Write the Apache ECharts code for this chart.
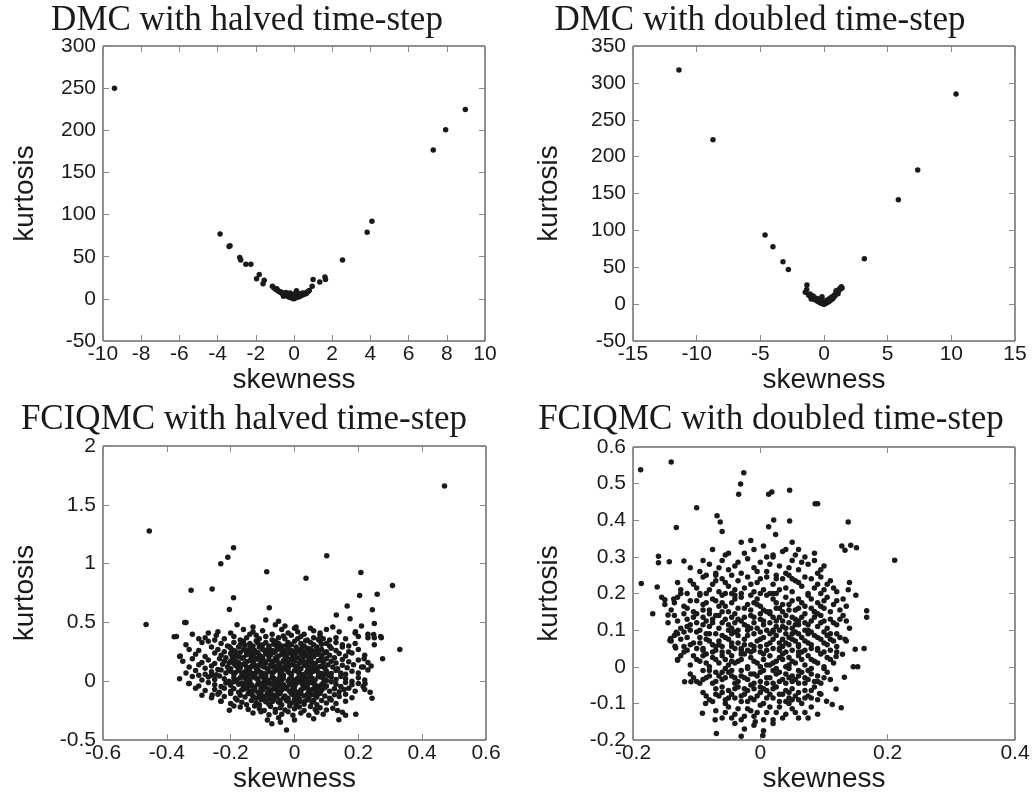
<!DOCTYPE html>
<html>
<head>
<meta charset="utf-8">
<script src="https://cdn.jsdelivr.net/npm/echarts@6/dist/echarts.min.js"></script>
<style>
  html, body { margin: 0; padding: 0; background: #fff; }
  #chart { width: 1035px; height: 794px; }
</style>
</head>
<body>
<div id="chart"></div>
<script>
// panel titles
var panelTitles = [
  'DMC with halved time-step',
  'DMC with doubled time-step',
  'FCIQMC with halved time-step',
  'FCIQMC with doubled time-step'
];

// axis ranges [min, max, interval]
var xRanges = [[-10, 10, 2], [-15, 15, 5], [-0.6, 0.6, 0.2], [-0.2, 0.4, 0.2]];
var yRanges = [[-50, 300, 50], [-50, 350, 50], [-0.5, 2, 0.5], [-0.2, 0.6, 0.1]];

// [skewness, kurtosis]
var dmcHalfPoints = [
  [-9.4,250],[-3.87,77],[-3.4,62],[-3.35,63],[-2.84,49],[-2.79,46],[-2.52,41],[-2.26,41],
  [-1.96,24],[-1.82,29],[-1.62,18],[-1.56,22],[-1.13,15],[1.0,23],[0.95,15],[1.35,20],
  [1.62,26],[1.65,23],[2.54,46],[3.83,79],[4.08,92],[7.29,176.5],[7.94,200.6],[8.97,224.8],
  [-1.05,13],[-0.95,11],[-0.9,12],[-0.85,10],[-0.8,9],[-0.75,8],[-0.7,8.5],[-0.65,7],
  [-0.6,6],[-0.55,7],[-0.5,5],[-0.45,6],[-0.42,7.5],[-0.4,4],[-0.35,3.5],[-0.3,3],
  [-0.28,5],[-0.25,2],[-0.2,2.5],[-0.18,4],[-0.15,1.5],[-0.1,1],[-0.08,3],[-0.05,0.5],
  [-0.02,2],[0,0],[0.02,1],[0.05,1.5],[0.08,3],[0.1,2],[0.12,4],[0.13,9.5],[0.15,1.5],
  [0.2,3],[0.22,5],[0.25,2.5],[0.3,4],[0.32,6],[0.35,3.5],[0.4,5],[0.45,4.5],[0.5,6],
  [0.55,5.5],[0.6,7],[0.65,6.5],[0.7,8],[0.75,9],[0.8,10],[-0.3,6.5],[-0.1,5],[0.05,6],
  [-0.55,3],[0.45,7],[-0.2,7],[0.25,6],[-0.05,3.5]
];

var dmcDoublePoints = [
  [-11.39,317.5],[-8.72,223],[-4.63,93.6],[-4.01,77.8],[-3.22,57.4],[-2.8,47],[-1.34,26],
  [-1.36,20],[-1.47,16],[-1.1,13.6],[-1.0,11],[-0.16,10],[3.17,61.5],[5.84,141.6],[7.36,182],
  [10.37,285],[1.36,23.5],[1.42,22],[1.23,21],[0.97,16.7],[0.79,12],[0.58,7.7],
  [-1.2,12],[-1.05,10],[-0.95,9],[-0.85,8],[-0.8,6.5],[-0.7,7],[-0.6,5],[-0.55,6],[-0.5,4],
  [-0.45,4.5],[-0.4,3],[-0.35,3.5],[-0.3,2],[-0.25,2.5],[-0.2,1.5],[-0.15,1],[-0.1,0.8],
  [-0.05,0.5],[0,0],[0.05,0.5],[0.1,1],[0.15,1.5],[0.2,2],[0.25,2.5],[0.3,3],[0.35,3.5],
  [0.4,4],[0.45,4.5],[0.5,5.5],[0.55,6],[0.65,7],[0.7,8],[0.75,9],[0.85,11],[0.9,13],
  [1.0,14],[1.05,15.5],[1.1,17],[1.15,18],[1.2,19.5],[1.3,21],[-0.6,8],[-0.3,5],[-0.05,4],
  [0.2,5],[0.45,7.5],[-0.85,11],[0.95,18],[-0.45,7],[0.1,4],[-0.2,4.5],[0.6,9.5],[-1.0,7],
  [1.1,14],[0.3,6]
];

var fciHalfPoints = [
  // scattered outliers
  [0.47,1.66],[-0.455,1.278],[-0.465,0.482],[-0.191,1.134],[-0.209,1.054],[-0.231,0.998],
  [-0.087,0.93],[0.101,1.066],[0.036,0.876],[0.208,0.924],[0.307,0.814],[0.259,0.74],
  [0.204,0.729],[-0.324,0.774],[-0.258,0.785],[-0.191,0.709],[-0.204,0.61],[-0.079,0.624],
  [0.33,0.27],[0.276,0.191],[0.244,0.607],[0.165,0.64],[0.131,0.562],[-0.377,0.377],
  [-0.358,0.214],[-0.344,0.5],[-0.331,-0.02],[-0.258,-0.118],[-0.231,-0.17],[-0.204,-0.246],
  [-0.071,-0.362],[-0.025,-0.415],[-0.044,-0.35],[0.139,-0.327],[0.192,-0.282],[0.243,-0.146],
  [0.237,-0.093],[0.221,-0.02],[0.216,0.12],[0.218,0.19],[0.23,0.37],[0.248,0.397],
  [0.272,0.37],[0.174,0.53],[0.191,0.42],
  // main cloud
  [-0.34,0.50],[-0.18,0.48],[-0.09,0.52],[-0.06,0.48],[-0.03,0.47],[0.005,0.46],[0.05,0.45],
  [0.12,0.46],[0.21,0.47],[0.25,0.49],[-0.13,0.46],[-0.05,0.51],
  [-0.32,0.40],[-0.27,0.41],[-0.24,0.42],[-0.2,0.41],[-0.16,0.44],[-0.13,0.42],[-0.1,0.43],
  [-0.07,0.40],[-0.04,0.44],[-0.02,0.41],[0.01,0.42],[0.03,0.40],[0.06,0.43],[0.08,0.41],
  [0.1,0.44],[0.14,0.42],[0.19,0.41],[0.23,0.40],[-0.14,0.40],[0.0,0.45],
  [-0.37,0.38],[-0.3,0.36],[-0.28,0.37],[-0.25,0.35],[-0.22,0.36],[-0.19,0.38],[-0.17,0.35],
  [-0.15,0.37],[-0.12,0.39],[-0.11,0.36],[-0.09,0.38],[-0.07,0.35],[-0.05,0.37],[-0.03,0.36],
  [-0.01,0.39],[0.01,0.36],[0.02,0.38],[0.04,0.35],[0.06,0.37],[0.08,0.39],[0.09,0.36],
  [0.11,0.35],[0.13,0.37],[0.16,0.36],[0.2,0.38],[0.25,0.37],[0.27,0.38],[-0.245,0.39],
  [-0.035,0.385],[0.075,0.355],
  [-0.34,0.31],[-0.29,0.33],[-0.27,0.34],[-0.23,0.32],[-0.21,0.30],[-0.19,0.33],[-0.17,0.31],
  [-0.16,0.34],[-0.14,0.32],[-0.13,0.30],[-0.12,0.345],[-0.1,0.31],[-0.09,0.33],[-0.08,0.30],
  [-0.06,0.34],[-0.05,0.32],[-0.04,0.30],[-0.02,0.33],[-0.01,0.31],[0.0,0.34],[0.02,0.32],
  [0.03,0.30],[0.05,0.33],[0.06,0.31],[0.08,0.34],[0.1,0.32],[0.11,0.30],[0.13,0.33],
  [0.15,0.31],[0.17,0.30],[0.19,0.32],[0.25,0.31],[-0.155,0.305],[-0.065,0.315],[0.035,0.345],
  [-0.115,0.325],[-0.025,0.305],[0.085,0.315],
  [-0.33,0.27],[-0.3,0.26],[-0.26,0.29],[-0.24,0.27],[-0.22,0.25],[-0.2,0.28],[-0.19,0.26],
  [-0.175,0.29],[-0.16,0.27],[-0.15,0.25],[-0.14,0.28],[-0.125,0.26],[-0.11,0.29],[-0.1,0.27],
  [-0.09,0.25],[-0.08,0.28],[-0.07,0.26],[-0.055,0.29],[-0.045,0.27],[-0.03,0.25],[-0.02,0.28],
  [-0.01,0.26],[0.005,0.29],[0.015,0.27],[0.03,0.25],[0.04,0.28],[0.055,0.26],[0.07,0.29],
  [0.085,0.27],[0.1,0.25],[0.115,0.28],[0.13,0.26],[0.15,0.29],[0.17,0.25],[0.2,0.27],
  [-0.205,0.295],[-0.085,0.255],[0.025,0.295],[-0.135,0.255],[0.065,0.255],[-0.04,0.295],
  [-0.36,0.21],[-0.31,0.23],[-0.28,0.21],[-0.25,0.24],[-0.23,0.22],[-0.215,0.2],[-0.2,0.235],
  [-0.185,0.215],[-0.17,0.245],[-0.16,0.2],[-0.15,0.225],[-0.135,0.21],[-0.125,0.24],[-0.11,0.22],
  [-0.1,0.2],[-0.09,0.235],[-0.08,0.215],[-0.065,0.245],[-0.055,0.205],[-0.04,0.23],[-0.03,0.21],
  [-0.015,0.24],[-0.005,0.22],[0.01,0.2],[0.02,0.235],[0.035,0.215],[0.045,0.245],[0.06,0.205],
  [0.07,0.23],[0.085,0.21],[0.095,0.24],[0.11,0.22],[0.125,0.2],[0.14,0.235],[0.16,0.215],
  [0.18,0.24],[0.22,0.22],[-0.195,0.205],[-0.075,0.225],[0.055,0.225],[-0.145,0.245],[0.005,0.245],
  [-0.35,0.17],[-0.32,0.19],[-0.29,0.16],[-0.27,0.18],[-0.25,0.15],[-0.235,0.19],[-0.22,0.17],
  [-0.205,0.155],[-0.19,0.185],[-0.18,0.165],[-0.165,0.195],[-0.155,0.15],[-0.14,0.175],
  [-0.13,0.16],[-0.115,0.19],[-0.105,0.17],[-0.09,0.155],[-0.08,0.185],[-0.07,0.165],
  [-0.06,0.195],[-0.045,0.15],[-0.035,0.175],[-0.02,0.16],[-0.01,0.19],[0.0,0.17],[0.015,0.155],
  [0.025,0.185],[0.04,0.165],[0.05,0.195],[0.065,0.15],[0.075,0.175],[0.09,0.16],[0.1,0.19],
  [0.115,0.17],[0.13,0.155],[0.15,0.185],[0.17,0.165],[0.2,0.18],[0.23,0.16],[-0.125,0.2],
  [-0.025,0.2],[0.055,0.16],[-0.175,0.155],[-0.065,0.17],
  [-0.33,0.12],[-0.3,0.14],[-0.28,0.11],[-0.26,0.13],[-0.24,0.1],[-0.225,0.145],[-0.21,0.12],
  [-0.2,0.105],[-0.185,0.135],[-0.17,0.115],[-0.16,0.145],[-0.145,0.1],[-0.135,0.125],
  [-0.12,0.11],[-0.11,0.14],[-0.095,0.12],[-0.085,0.105],[-0.075,0.135],[-0.06,0.115],
  [-0.05,0.145],[-0.04,0.1],[-0.03,0.125],[-0.02,0.11],[-0.005,0.14],[0.005,0.12],[0.02,0.105],
  [0.03,0.135],[0.045,0.115],[0.055,0.145],[0.07,0.1],[0.08,0.125],[0.095,0.11],[0.105,0.14],
  [0.12,0.12],[0.135,0.105],[0.15,0.135],[0.165,0.115],[0.185,0.14],[0.21,0.12],[0.24,0.13],
  [-0.19,0.15],[-0.065,0.13],[0.035,0.15],[-0.115,0.1],[-0.015,0.135],
  [-0.34,0.07],[-0.31,0.09],[-0.28,0.06],[-0.26,0.08],[-0.245,0.055],[-0.23,0.095],[-0.215,0.07],
  [-0.2,0.085],[-0.19,0.06],[-0.175,0.09],[-0.165,0.07],[-0.15,0.055],[-0.14,0.085],[-0.13,0.065],
  [-0.115,0.095],[-0.105,0.075],[-0.09,0.055],[-0.08,0.085],[-0.07,0.065],[-0.055,0.095],
  [-0.045,0.07],[-0.035,0.05],[-0.02,0.08],[-0.01,0.06],[0.0,0.09],[0.015,0.07],[0.025,0.055],
  [0.04,0.085],[0.05,0.065],[0.065,0.095],[0.075,0.075],[0.09,0.055],[0.1,0.085],[0.115,0.065],
  [0.13,0.09],[0.145,0.07],[0.16,0.06],[0.18,0.085],[0.2,0.07],[0.23,0.095],[-0.3,0.05],
  [-0.205,0.1],[-0.125,0.05],[-0.025,0.1],[0.055,0.1],[0.105,0.05],
  [-0.36,0.02],[-0.32,0.04],[-0.29,0.01],[-0.27,0.035],[-0.25,0.015],[-0.235,0.045],[-0.22,0.02],
  [-0.205,0.0],[-0.19,0.03],[-0.18,0.01],[-0.165,0.045],[-0.155,0.025],[-0.14,0.005],[-0.13,0.035],
  [-0.115,0.015],[-0.105,0.045],[-0.09,0.025],[-0.08,0.005],[-0.07,0.035],[-0.055,0.015],
  [-0.045,0.045],[-0.035,0.025],[-0.02,0.0],[-0.01,0.03],[0.0,0.01],[0.015,0.045],[0.025,0.02],
  [0.04,0.0],[0.05,0.035],[0.065,0.015],[0.075,0.045],[0.09,0.025],[0.1,0.005],[0.115,0.035],
  [0.13,0.015],[0.145,0.04],[0.16,0.02],[0.18,0.0],[0.2,0.03],[0.22,0.01],[-0.26,0.05],
  [-0.145,0.05],[-0.06,0.0],[0.035,0.03],[-0.095,0.0],[0.085,0.05],
  [-0.33,-0.02],[-0.3,-0.04],[-0.27,-0.01],[-0.25,-0.03],[-0.23,-0.045],[-0.215,-0.015],
  [-0.2,-0.035],[-0.19,-0.005],[-0.175,-0.025],[-0.16,-0.045],[-0.15,-0.01],[-0.135,-0.03],
  [-0.125,-0.05],[-0.11,-0.015],[-0.1,-0.035],[-0.085,-0.005],[-0.075,-0.025],[-0.06,-0.045],
  [-0.05,-0.01],[-0.035,-0.03],[-0.025,-0.05],[-0.01,-0.015],[0.0,-0.035],[0.015,-0.005],
  [0.025,-0.025],[0.04,-0.045],[0.05,-0.01],[0.065,-0.03],[0.075,-0.05],[0.09,-0.015],[0.1,-0.04],
  [0.115,-0.005],[0.13,-0.025],[0.145,-0.045],[0.16,-0.01],[0.18,-0.03],[0.2,-0.02],[0.215,-0.045],
  [-0.045,-0.04],[0.035,-0.015],[-0.14,-0.02],[0.085,-0.03],
  [-0.31,-0.06],[-0.28,-0.08],[-0.25,-0.07],[-0.235,-0.095],[-0.22,-0.06],[-0.2,-0.085],
  [-0.19,-0.065],[-0.175,-0.095],[-0.165,-0.075],[-0.15,-0.055],[-0.14,-0.085],[-0.125,-0.065],
  [-0.115,-0.095],[-0.1,-0.075],[-0.09,-0.055],[-0.075,-0.085],[-0.065,-0.065],[-0.05,-0.095],
  [-0.04,-0.075],[-0.03,-0.055],[-0.015,-0.085],[-0.005,-0.065],[0.01,-0.095],[0.02,-0.075],
  [0.035,-0.055],[0.045,-0.085],[0.06,-0.065],[0.07,-0.095],[0.085,-0.075],[0.095,-0.055],
  [0.11,-0.085],[0.125,-0.065],[0.14,-0.09],[0.155,-0.07],[0.17,-0.06],[0.19,-0.085],[0.22,-0.07],
  [-0.085,-0.1],[0.0,-0.05],[0.065,-0.08],
  [-0.29,-0.12],[-0.26,-0.14],[-0.24,-0.11],[-0.22,-0.13],[-0.2,-0.105],[-0.185,-0.145],
  [-0.17,-0.12],[-0.155,-0.135],[-0.145,-0.105],[-0.13,-0.125],[-0.12,-0.145],[-0.105,-0.11],
  [-0.095,-0.13],[-0.08,-0.15],[-0.07,-0.115],[-0.055,-0.135],[-0.045,-0.105],[-0.03,-0.125],
  [-0.02,-0.145],[-0.005,-0.115],[0.005,-0.135],[0.02,-0.105],[0.03,-0.125],[0.045,-0.145],
  [0.055,-0.115],[0.07,-0.135],[0.08,-0.105],[0.095,-0.125],[0.11,-0.145],[0.125,-0.115],
  [0.14,-0.13],[0.16,-0.11],[0.18,-0.14],[-0.065,-0.145],[0.015,-0.15],
  [-0.23,-0.17],[-0.2,-0.19],[-0.18,-0.16],[-0.165,-0.18],[-0.15,-0.2],[-0.135,-0.165],
  [-0.12,-0.185],[-0.105,-0.155],[-0.09,-0.175],[-0.08,-0.195],[-0.065,-0.16],[-0.05,-0.18],
  [-0.04,-0.2],[-0.025,-0.165],[-0.01,-0.185],[0.0,-0.155],[0.015,-0.175],[0.03,-0.195],
  [0.04,-0.16],[0.055,-0.18],[0.07,-0.2],[0.085,-0.165],[0.1,-0.185],[0.115,-0.16],[0.13,-0.19],
  [0.16,-0.17],[-0.11,-0.2],[0.005,-0.2],
  [-0.17,-0.22],[-0.145,-0.24],[-0.125,-0.21],[-0.11,-0.235],[-0.095,-0.25],[-0.075,-0.215],
  [-0.06,-0.24],[-0.045,-0.225],[-0.03,-0.245],[-0.015,-0.21],[0.0,-0.235],[0.015,-0.22],
  [0.03,-0.25],[0.05,-0.215],[0.065,-0.24],[0.08,-0.225],[0.1,-0.245],[0.12,-0.23],[0.135,-0.25],
  [-0.19,-0.21],
  [-0.13,-0.27],[-0.105,-0.26],[-0.08,-0.285],[-0.06,-0.265],[-0.04,-0.28],[-0.02,-0.26],
  [-0.005,-0.29],[0.02,-0.27],[0.045,-0.29],[0.07,-0.265],[0.09,-0.28],[0.15,-0.265],[0.16,-0.29],
  [-0.05,-0.31],[0.0,-0.33],[0.06,-0.32],[-0.085,-0.33],
  // denser core
  [-0.185,0.25],[-0.155,0.265],[-0.115,0.245],[-0.095,0.265],[-0.06,0.255],[-0.035,0.265],[0.0,0.255],
  [0.02,0.26],[0.05,0.275],[0.075,0.265],[-0.175,0.21],[-0.14,0.225],[-0.105,0.21],[-0.085,0.23],
  [-0.05,0.215],[-0.025,0.225],[0.0,0.21],[0.025,0.22],[0.05,0.21],[0.08,0.225],[-0.2,0.17],
  [-0.15,0.165],[-0.125,0.18],[-0.095,0.17],[-0.055,0.18],[-0.03,0.165],[-0.005,0.175],[0.02,0.17],
  [0.045,0.18],[0.085,0.175],[-0.18,0.125],[-0.15,0.12],[-0.125,0.135],[-0.1,0.13],[-0.07,0.125],
  [-0.045,0.12],[-0.025,0.115],[0.01,0.13],[0.04,0.125],[0.065,0.12],[0.09,0.125],[-0.185,0.075],
  [-0.155,0.08],[-0.12,0.075],[-0.095,0.065],[-0.065,0.08],[-0.04,0.085],[-0.015,0.07],[0.01,0.08],
  [0.035,0.065],[0.06,0.085],[0.085,0.065],[-0.17,0.03],[-0.145,0.02],[-0.12,0.025],[-0.1,0.035],
  [-0.065,0.025],[-0.04,0.01],[-0.015,0.02],[0.01,0.025],[0.03,0.01],[0.055,0.025],[0.08,0.035],
  [-0.165,-0.015],[-0.14,-0.04],[-0.115,-0.025],[-0.09,-0.02],[-0.065,-0.01],[-0.04,-0.02],
  [-0.015,-0.03],[0.005,-0.02],[0.03,-0.035],[0.06,-0.02],[0.08,-0.04],[-0.155,-0.065],[-0.13,-0.08],
  [-0.105,-0.06],[-0.08,-0.07],[-0.055,-0.075],[-0.025,-0.065],[0.0,-0.08],[0.025,-0.065],
  [0.05,-0.075],[0.08,-0.09],[-0.135,-0.11],[-0.11,-0.125],[-0.085,-0.115],[-0.06,-0.12],
  [-0.035,-0.14],[-0.01,-0.105],[0.01,-0.12],[0.04,-0.11],[0.065,-0.12],[-0.095,-0.16],
  [-0.07,-0.175],[-0.045,-0.165],[-0.02,-0.17],[0.005,-0.165],[0.03,-0.175],[0.06,-0.165]
];

var fciDoublePoints = [
  // scattered outliers
  [-0.188,0.538],[-0.14,0.559],[-0.026,0.53],[-0.031,0.499],[-0.034,0.471],[0.013,0.471],
  [0.018,0.477],[0.046,0.482],[0.086,0.445],[0.09,0.445],[-0.1,0.434],[-0.132,0.38],
  [-0.068,0.412],[-0.063,0.395],[-0.06,0.369],[0.021,0.401],[0.013,0.382],[0.024,0.361],
  [0.046,0.398],[0.138,0.395],[0.211,0.291],[-0.187,0.227],[-0.16,0.302],[-0.16,0.284],
  [-0.143,0.287],[-0.162,0.218],[-0.169,0.145],[-0.15,0.183],[-0.145,0.141],[-0.136,0.185],
  [-0.12,0.289],[-0.141,0.077],[-0.142,0.072],[-0.132,0.094],[-0.134,0.056],[-0.133,0.051],
  [-0.13,0.018],[-0.119,-0.041],[-0.109,-0.041],[-0.091,-0.127],[-0.086,-0.1],[-0.071,-0.145],
  [-0.069,-0.182],[0.004,-0.188],[-0.008,-0.15],[0.128,0.33],[0.133,0.318],[0.142,0.332],
  [0.151,0.325],[0.15,0.195],[0.167,0.153],[0.167,0.135],[0.163,0.05],[0.149,0.048],
  [0.146,0.0],[0.153,0.0],[0.132,-0.029],[0.119,-0.061],[0.127,-0.112],[0.113,-0.103],
  [0.104,-0.094],[0.093,-0.073],[0.14,0.23],[0.138,0.21],[0.133,0.075],[0.119,0.028],[0.129,0.034],
  // main cloud
  [-0.05,0.31],[-0.03,0.34],[-0.015,0.345],[-0.01,0.32],[0.005,0.33],[0.02,0.305],[0.035,0.315],
  [0.05,0.34],[0.055,0.305],[0.085,0.31],[-0.075,0.32],[0.06,0.32],
  [-0.11,0.27],[-0.095,0.26],[-0.08,0.28],[-0.07,0.255],[-0.06,0.29],[-0.05,0.265],[-0.04,0.275],
  [-0.03,0.255],[-0.02,0.295],[-0.01,0.27],[0.0,0.285],[0.01,0.26],[0.02,0.3],[0.03,0.275],
  [0.04,0.255],[0.05,0.29],[0.06,0.265],[0.075,0.28],[0.09,0.255],[0.1,0.275],[-0.045,0.25],
  [0.025,0.25],[-0.085,0.25],[0.07,0.3],[0.085,0.29],
  [-0.125,0.21],[-0.11,0.235],[-0.1,0.215],[-0.09,0.245],[-0.085,0.2],[-0.075,0.225],[-0.065,0.205],
  [-0.06,0.24],[-0.05,0.22],[-0.045,0.2],[-0.035,0.235],[-0.025,0.215],[-0.02,0.245],[-0.01,0.205],
  [-0.005,0.23],[0.005,0.21],[0.01,0.245],[0.02,0.225],[0.025,0.2],[0.035,0.24],[0.04,0.215],
  [0.05,0.205],[0.055,0.235],[0.065,0.22],[0.075,0.2],[0.08,0.24],[0.09,0.225],[0.1,0.21],
  [0.11,0.235],[0.12,0.205],[-0.13,0.23],[-0.07,0.25],[0.045,0.25],[-0.03,0.2],[0.015,0.2],
  [0.07,0.245],[0.095,0.245],[-0.115,0.2],
  [-0.15,0.17],[-0.14,0.155],[-0.13,0.19],[-0.12,0.165],[-0.11,0.18],[-0.105,0.15],[-0.095,0.195],
  [-0.09,0.17],[-0.08,0.155],[-0.075,0.185],[-0.065,0.165],[-0.06,0.195],[-0.05,0.15],[-0.045,0.175],
  [-0.035,0.16],[-0.03,0.19],[-0.02,0.17],[-0.015,0.155],[-0.005,0.185],[0.0,0.165],[0.01,0.195],
  [0.015,0.15],[0.025,0.175],[0.03,0.16],[0.04,0.19],[0.045,0.17],[0.055,0.155],[0.06,0.185],
  [0.07,0.165],[0.075,0.195],[0.085,0.15],[0.09,0.175],[0.1,0.16],[0.105,0.19],[0.115,0.17],
  [0.125,0.155],[0.13,0.185],[-0.125,0.2],[-0.055,0.2],[0.02,0.2],[0.095,0.2],[-0.085,0.175],
  [-0.01,0.175],[0.065,0.175],[-0.04,0.195],[0.035,0.15],[0.11,0.15],[-0.155,0.19],
  [-0.145,0.12],[-0.135,0.14],[-0.125,0.105],[-0.115,0.13],[-0.11,0.115],[-0.1,0.145],[-0.095,0.1],
  [-0.085,0.125],[-0.08,0.11],[-0.07,0.14],[-0.065,0.105],[-0.055,0.13],[-0.05,0.115],[-0.04,0.145],
  [-0.035,0.1],[-0.03,0.125],[-0.02,0.11],[-0.015,0.14],[-0.005,0.105],[0.0,0.13],[0.005,0.115],
  [0.015,0.145],[0.02,0.1],[0.025,0.125],[0.035,0.11],[0.04,0.14],[0.05,0.105],[0.055,0.13],
  [0.06,0.115],[0.07,0.145],[0.075,0.1],[0.08,0.125],[0.09,0.11],[0.095,0.14],[0.105,0.105],
  [0.11,0.13],[0.12,0.115],[0.13,0.14],[0.14,0.105],[-0.06,0.15],[0.01,0.15],[0.085,0.15],
  [-0.1,0.12],[-0.025,0.135],[0.045,0.12],[0.1,0.125],[-0.075,0.12],[-0.01,0.12],[0.065,0.135],
  [-0.045,0.135],[0.03,0.135],[-0.12,0.145],[0.125,0.13],[-0.09,0.135],[0.015,0.12],
  [-0.14,0.07],[-0.13,0.09],[-0.12,0.055],[-0.115,0.08],[-0.105,0.065],[-0.1,0.095],[-0.09,0.05],
  [-0.085,0.075],[-0.075,0.06],[-0.07,0.09],[-0.06,0.055],[-0.055,0.08],[-0.045,0.065],[-0.04,0.095],
  [-0.03,0.05],[-0.025,0.075],[-0.015,0.06],[-0.01,0.09],[0.0,0.055],[0.005,0.08],[0.015,0.065],
  [0.02,0.095],[0.03,0.05],[0.035,0.075],[0.045,0.06],[0.05,0.09],[0.06,0.055],[0.065,0.08],
  [0.075,0.065],[0.08,0.095],[0.09,0.05],[0.095,0.075],[0.105,0.06],[0.11,0.09],[0.12,0.055],
  [0.125,0.08],[0.135,0.07],[-0.095,0.08],[-0.035,0.085],[0.025,0.085],[0.085,0.085],[-0.065,0.07],
  [-0.005,0.07],[0.055,0.07],[0.115,0.07],[-0.05,0.1],[0.01,0.1],[0.07,0.1],[-0.11,0.1],[0.04,0.065],
  [-0.02,0.1],[-0.08,0.09],[0.1,0.095],[0.045,0.08],[-0.125,0.075],[0.06,0.06],[0.03,0.1],[-0.045,0.055],
  [-0.13,0.02],[-0.12,0.04],[-0.11,0.005],[-0.105,0.03],[-0.095,0.015],[-0.09,0.045],[-0.08,0.0],
  [-0.075,0.025],[-0.065,0.01],[-0.06,0.04],[-0.05,0.005],[-0.045,0.03],[-0.035,0.015],[-0.03,0.045],
  [-0.02,0.0],[-0.015,0.025],[-0.005,0.01],[0.0,0.04],[0.01,0.005],[0.015,0.03],[0.025,0.015],
  [0.03,0.045],[0.04,0.0],[0.045,0.025],[0.055,0.01],[0.06,0.04],[0.07,0.005],[0.075,0.03],
  [0.085,0.015],[0.09,0.045],[0.1,0.0],[0.105,0.025],[0.115,0.01],[0.12,0.04],[-0.085,0.035],
  [-0.025,0.035],[0.035,0.035],[0.095,0.035],[-0.055,0.02],[0.005,0.02],[0.065,0.02],[-0.04,0.05],
  [0.02,0.05],[0.08,0.05],[-0.1,0.05],[-0.01,0.045],[0.05,0.045],[-0.07,0.045],[0.11,0.045],
  [0.03,0.025],[-0.03,0.02],[0.0,0.0],
  [-0.11,-0.02],[-0.1,-0.04],[-0.09,-0.01],[-0.085,-0.03],[-0.075,-0.045],[-0.07,-0.015],
  [-0.06,-0.035],[-0.055,-0.005],[-0.045,-0.025],[-0.04,-0.045],[-0.03,-0.01],[-0.025,-0.03],
  [-0.015,-0.05],[-0.01,-0.02],[0.0,-0.04],[0.005,-0.01],[0.015,-0.03],[0.02,-0.045],[0.03,-0.015],
  [0.035,-0.035],[0.045,-0.005],[0.05,-0.025],[0.06,-0.045],[0.065,-0.015],[0.075,-0.035],
  [0.08,-0.005],[0.09,-0.025],[0.095,-0.045],[0.105,-0.015],[0.11,-0.035],[-0.065,-0.025],
  [-0.005,-0.025],[0.055,-0.035],[-0.035,-0.04],[0.025,-0.02],[0.085,-0.04],[-0.05,-0.015],
  [0.01,-0.045],[0.07,-0.03],[-0.08,-0.01],[0.04,-0.045],[-0.02,-0.005],[0.1,-0.005],
  [-0.095,-0.045],[0.06,-0.01],
  [-0.09,-0.07],[-0.08,-0.09],[-0.07,-0.06],[-0.065,-0.08],[-0.055,-0.1],[-0.05,-0.065],
  [-0.04,-0.085],[-0.035,-0.055],[-0.025,-0.075],[-0.02,-0.095],[-0.01,-0.06],[-0.005,-0.08],
  [0.005,-0.1],[0.01,-0.065],[0.02,-0.085],[0.025,-0.055],[0.035,-0.075],[0.04,-0.095],
  [0.05,-0.06],[0.055,-0.08],[0.065,-0.1],[0.07,-0.065],[0.08,-0.085],[0.085,-0.055],
  [0.095,-0.075],[-0.045,-0.075],[0.015,-0.075],[0.045,-0.085],[-0.015,-0.085],[0.03,-0.095],
  [-0.06,-0.055],[0.06,-0.09],[-0.03,-0.095],[0.0,-0.055],[0.075,-0.08],[-0.075,-0.095],
  [-0.07,-0.12],[-0.06,-0.14],[-0.05,-0.11],[-0.04,-0.13],[-0.03,-0.145],[-0.02,-0.115],
  [-0.01,-0.135],[0.0,-0.105],[0.01,-0.125],[0.02,-0.145],[0.03,-0.11],[0.04,-0.13],[0.05,-0.115],
  [0.06,-0.14],[0.07,-0.125],[0.08,-0.11],[-0.015,-0.12],[0.025,-0.125],[0.045,-0.1],[0.09,-0.13],
  [-0.04,-0.155],[-0.025,-0.17],[-0.01,-0.16],[0.005,-0.175],[0.02,-0.155],[-0.03,-0.19],
  // denser core
  [-0.065,0.27],[-0.035,0.285],[-0.005,0.26],[0.015,0.28],[0.045,0.27],[0.065,0.285],[-0.09,0.29],
  [0.095,0.265],[-0.025,0.31],[0.01,0.3],[0.04,0.32],[-0.055,0.305],
  [-0.105,0.225],[-0.08,0.21],[-0.055,0.23],[-0.04,0.21],[-0.015,0.225],[0.0,0.24],[0.03,0.21],
  [0.06,0.23],[0.085,0.215],[0.105,0.225],[-0.095,0.2],[0.0,0.2],[0.05,0.24],[-0.07,0.235],
  [0.025,0.24],[0.115,0.215],
  [-0.135,0.175],[-0.115,0.16],[-0.1,0.18],[-0.07,0.18],[-0.055,0.165],[-0.04,0.185],[-0.025,0.16],
  [-0.005,0.17],[0.005,0.155],[0.02,0.185],[0.035,0.17],[0.05,0.18],[0.06,0.16],[0.08,0.185],
  [0.095,0.165],[0.12,0.18],[0.135,0.165],[-0.09,0.155],[-0.015,0.195],[0.045,0.155],[0.08,0.16],
  [-0.06,0.175],[0.1,0.18],[0.025,0.16],
  [-0.13,0.125],[-0.105,0.135],[-0.09,0.115],[-0.075,0.13],[-0.06,0.12],[-0.045,0.105],[-0.035,0.13],
  [-0.025,0.115],[-0.01,0.135],[0.005,0.125],[0.02,0.135],[0.035,0.125],[0.05,0.135],[0.06,0.125],
  [0.075,0.115],[0.085,0.135],[0.095,0.12],[0.115,0.12],[0.135,0.125],[-0.115,0.11],[-0.065,0.14],
  [-0.015,0.105],[0.04,0.105],[0.09,0.145],[-0.04,0.12],[0.025,0.11],[0.07,0.12],[-0.08,0.145],
  [0.0,0.145],[0.055,0.115],
  [-0.135,0.085],[-0.11,0.06],[-0.095,0.065],[-0.08,0.07],[-0.07,0.055],[-0.06,0.085],[-0.05,0.075],
  [-0.035,0.065],[-0.02,0.085],[-0.01,0.055],[0.0,0.075],[0.01,0.06],[0.02,0.075],[0.03,0.065],
  [0.04,0.09],[0.05,0.075],[0.06,0.09],[0.07,0.07],[0.08,0.06],[0.09,0.08],[0.1,0.065],[0.11,0.075],
  [0.12,0.09],[-0.12,0.095],[-0.085,0.09],[-0.045,0.09],[-0.025,0.06],[0.015,0.09],[0.035,0.055],
  [0.075,0.09],[0.105,0.085],[-0.065,0.06],[0.0,0.095],[0.055,0.095],
  [-0.125,0.03],[-0.115,0.045],[-0.1,0.02],[-0.085,0.01],[-0.07,0.02],[-0.06,0.03],[-0.05,0.04],
  [-0.04,0.01],[-0.03,0.035],[-0.015,0.04],[-0.01,0.015],[0.005,0.035],[0.01,0.045],[0.02,0.01],
  [0.035,0.02],[0.04,0.04],[0.05,0.015],[0.06,0.03],[0.07,0.045],[0.08,0.02],[0.09,0.01],[0.1,0.04],
  [0.11,0.02],[-0.09,0.03],[-0.045,0.015],[0.015,0.005],[0.065,0.04],[-0.02,0.045],[0.045,0.005],
  [-0.075,0.04],
  [-0.105,-0.03],[-0.09,-0.035],[-0.08,-0.025],[-0.07,-0.04],[-0.055,-0.03],[-0.045,-0.01],
  [-0.03,-0.025],[-0.02,-0.035],[-0.01,-0.045],[0.0,-0.015],[0.01,-0.03],[0.02,-0.01],[0.03,-0.04],
  [0.04,-0.02],[0.05,-0.04],[0.06,-0.025],[0.07,-0.045],[0.08,-0.02],[0.09,-0.04],[0.1,-0.03],
  [-0.06,-0.015],[-0.015,-0.02],[0.045,-0.03],[0.025,-0.005],[-0.04,-0.03],[0.075,-0.01],
  [-0.085,-0.08],[-0.07,-0.075],[-0.06,-0.07],[-0.05,-0.085],[-0.04,-0.06],[-0.03,-0.08],
  [-0.02,-0.065],[-0.01,-0.09],[0.0,-0.07],[0.01,-0.085],[0.02,-0.06],[0.03,-0.075],[0.04,-0.065],
  [0.05,-0.09],[0.06,-0.07],[0.07,-0.085],[0.08,-0.065],[0.09,-0.09],[-0.055,-0.09],[0.005,-0.06],
  [0.045,-0.07],[-0.025,-0.06],
  [-0.055,-0.125],[-0.035,-0.115],[-0.025,-0.135],[-0.005,-0.125],[0.015,-0.11],[0.035,-0.14],
  [0.055,-0.125],[0.075,-0.14],[-0.045,-0.14],[0.005,-0.145]
];

var panelPoints = [dmcHalfPoints, dmcDoublePoints, fciHalfPoints, fciDoublePoints];

// plot boxes in pixels: [left, top, width, height]
var boxes = [[103, 46, 382, 295], [633, 46, 382, 295], [103, 446, 383, 294], [633, 447, 382, 293]];
var titleCenters = [[247, 3], [760, 3], [244, 402], [771, 402]];
var yNameGaps = [64, 70, 64, 70];

var inkColor = '#1a1a1a';
var tickFont = 'Liberation Sans, Arial, sans-serif';

function fmt(v) {
  return String(+v.toFixed(2));
}

var grids = [], xAxes = [], yAxes = [], series = [], titles = [];

for (var i = 0; i < 4; i++) {
  var b = boxes[i];
  grids.push({
    left: b[0], top: b[1], width: b[2], height: b[3],
    show: true, borderColor: '#222', borderWidth: 1, backgroundColor: 'transparent'
  });

  var xr = xRanges[i], yr = yRanges[i];
  var tick = { show: true, inside: true, length: 6, lineStyle: { color: '#888', width: 1 } };
  var noLine = { show: false, onZero: false };

  // bottom axis with labels
  xAxes.push({
    gridIndex: i, type: 'value', position: 'bottom',
    min: xr[0], max: xr[1], interval: xr[2],
    axisLine: noLine, axisTick: tick, splitLine: { show: false },
    axisLabel: { color: inkColor, fontFamily: tickFont, fontSize: 21, margin: 3, formatter: fmt, showMinLabel: true, showMaxLabel: true },
    name: 'skewness', nameLocation: 'middle', nameGap: 24,
    nameTextStyle: { color: inkColor, fontFamily: tickFont, fontSize: 28 }
  });
  // top axis, ticks only
  xAxes.push({
    gridIndex: i, type: 'value', position: 'top',
    min: xr[0], max: xr[1], interval: xr[2],
    axisLine: noLine, axisTick: tick, axisLabel: { show: false }, splitLine: { show: false }
  });
  // left axis with labels
  yAxes.push({
    gridIndex: i, type: 'value', position: 'left',
    min: yr[0], max: yr[1], interval: yr[2],
    axisLine: noLine, axisTick: tick, splitLine: { show: false },
    axisLabel: { color: inkColor, fontFamily: tickFont, fontSize: 21, margin: 7, formatter: fmt, showMinLabel: true, showMaxLabel: true },
    name: 'kurtosis', nameLocation: 'middle', nameGap: yNameGaps[i],
    nameTextStyle: { color: inkColor, fontFamily: tickFont, fontSize: 28 }
  });
  // right axis, ticks only
  yAxes.push({
    gridIndex: i, type: 'value', position: 'right',
    min: yr[0], max: yr[1], interval: yr[2],
    axisLine: noLine, axisTick: tick, axisLabel: { show: false }, splitLine: { show: false }
  });

  series.push({
    type: 'scatter',
    xAxisIndex: i * 2, yAxisIndex: i * 2,
    symbol: 'circle', symbolSize: 5.5,
    itemStyle: { color: inkColor, opacity: 1 },
    silent: true, animation: false,
    data: panelPoints[i]
  });

  titles.push({
    text: panelTitles[i],
    left: titleCenters[i][0], top: titleCenters[i][1],
    textAlign: 'center', padding: 0,
    textStyle: { fontFamily: 'Liberation Serif, Times New Roman, serif', fontSize: 35, fontWeight: 'normal', color: inkColor }
  });
}

var chart = echarts.init(document.getElementById('chart'));
chart.setOption({
  animation: false,
  title: titles,
  grid: grids,
  xAxis: xAxes,
  yAxis: yAxes,
  series: series
});
</script>
</body>
</html>
